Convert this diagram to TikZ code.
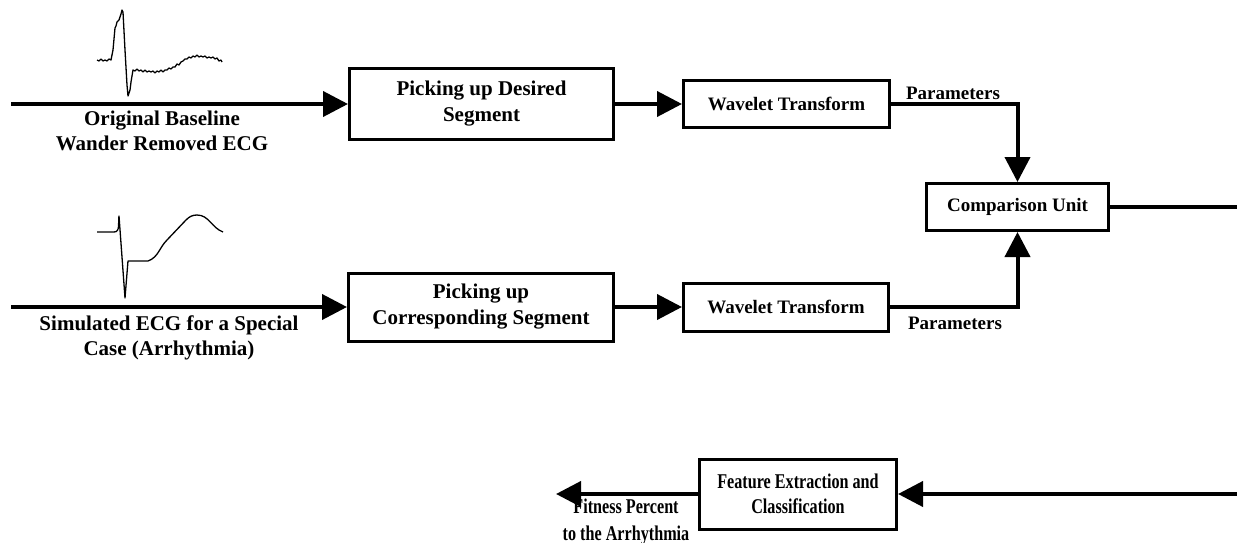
\documentclass[tikz,border=0pt]{standalone}
\usepackage{fontspec}
\setmainfont{Liberation Serif}
\newfontfamily\narrowserif[FakeStretch=0.77]{Liberation Serif}
\usetikzlibrary{arrows.meta}

\begin{document}
\begin{tikzpicture}[x=1pt,y=-1pt,
    block/.style={draw, line width=3pt, inner sep=0pt, align=center,
      font=\bfseries\fontsize{21}{26}\selectfont},
    smallblock/.style={block, font=\bfseries\fontsize{19}{24}\selectfont},
    narrowblock/.style={block, font=\narrowserif\bfseries\fontsize{21}{25}\selectfont},
    label/.style={align=center, inner sep=0pt, font=\bfseries\fontsize{21}{25}\selectfont},
    flow/.style={line width=4pt, -{Triangle[length=25pt,width=25pt]}},
    wire/.style={line width=4pt},
    trace/.style={line width=1.3pt, line join=round}]
      \useasboundingbox (0,0) rectangle (1237,543);

      % top branch: measured ECG
      \coordinate (in1) at (11,104);
      \node[block, minimum width=264pt, minimum height=70pt] (pick1) at (481.5,104)
        {Picking up Desired\\Segment};
      \node[smallblock, minimum width=206pt, minimum height=46pt] (wave1) at (786.5,104)
        {Wavelet Transform};
      \node[label] (orig) at (162,131) {Original Baseline\\Wander Removed ECG};

      % lower branch: simulated ECG
      \coordinate (in2) at (11,307);
      \node[block, minimum width=265pt, minimum height=68pt] (pick2) at (481,307)
        {Picking up\\Corresponding Segment};
      \node[smallblock, minimum width=205pt, minimum height=48pt] (wave2) at (786,307)
        {Wavelet Transform};
      \node[label] (simu) at (169,337.5) {Simulated ECG for a Special\\Case (Arrhythmia)};

      % comparison
      \node[smallblock, minimum width=182pt, minimum height=47pt] (comp) at (1017.5,207)
        {Comparison Unit};
      \node[label, font=\bfseries\fontsize{19}{24}\selectfont] (par1) at (953,93) {Parameters};
      \node[label, font=\bfseries\fontsize{19}{24}\selectfont] (par2) at (955,323) {Parameters};
      \coordinate (out1) at (1237,207);

      % classification
      \coordinate (in3) at (1237,494);
      \node[narrowblock, minimum width=197pt, minimum height=70pt] (feat) at (798,494)
        {Feature Extraction and\\Classification};
      \coordinate (fit) at (556,494);
      \node[label, font=\narrowserif\bfseries\fontsize{21}{27}\selectfont] (fitlab) at (626,521.5)
        {Fitness Percent\\to the Arrhythmia};

      \draw[flow] (in1) -- (pick1.west);
      \draw[flow] (pick1.east) -- (wave1.west);
      \draw[flow] (in2) -- (pick2.west);
      \draw[flow] (pick2.east) -- (wave2.west);
      \draw[flow] (wave1.east) -| (comp.north);
      \draw[flow] (wave2.east) -| (comp.south);
      \draw[wire] (comp.east) -- (out1);
      \draw[flow] (in3) -- (feat.east);
      \draw[flow] (feat.west) -- (fit);

      % sketches of the two signals
      \draw[trace] plot coordinates {(97,60) (99,61) (101,59) (103,61) (105,60) (107,61)
        (109,59) (111,60) (113,50) (115,28) (116,26) (117,22) (119,20) (121,14) (122,10)
        (123,12) (125,50) (127,85) (128,96) (130,90) (131,82) (132,76) (133,70) (135,71)
        (137,69) (139,71) (141,70) (143,72) (145,70) (147,72) (149,71) (151,72) (153,71)
        (155,73) (157,71) (159,72) (161,70) (163,72) (165,70) (167,70) (169,68) (171,69)
        (173,67) (175,67) (177,64) (179,65) (181,62) (183,61) (185,59) (187,59) (189,57)
        (191,58) (193,56) (195,57) (197,55) (199,57) (201,56) (203,57) (205,56) (207,58)
        (209,57) (211,58) (213,57) (215,59) (217,58) (219,61) (221,60) (222,62)};
      \draw[trace] (97,232) -- (114,232) to[out=0,in=-100] (119,216) -- (125,298)
        -- (128,261) -- (148,261) to[out=20,in=-135] (167,240) -- (186,220)
        to[out=45,in=180] (197,215) to[out=0,in=160] (223,232);
    \end{tikzpicture}
\end{document}
